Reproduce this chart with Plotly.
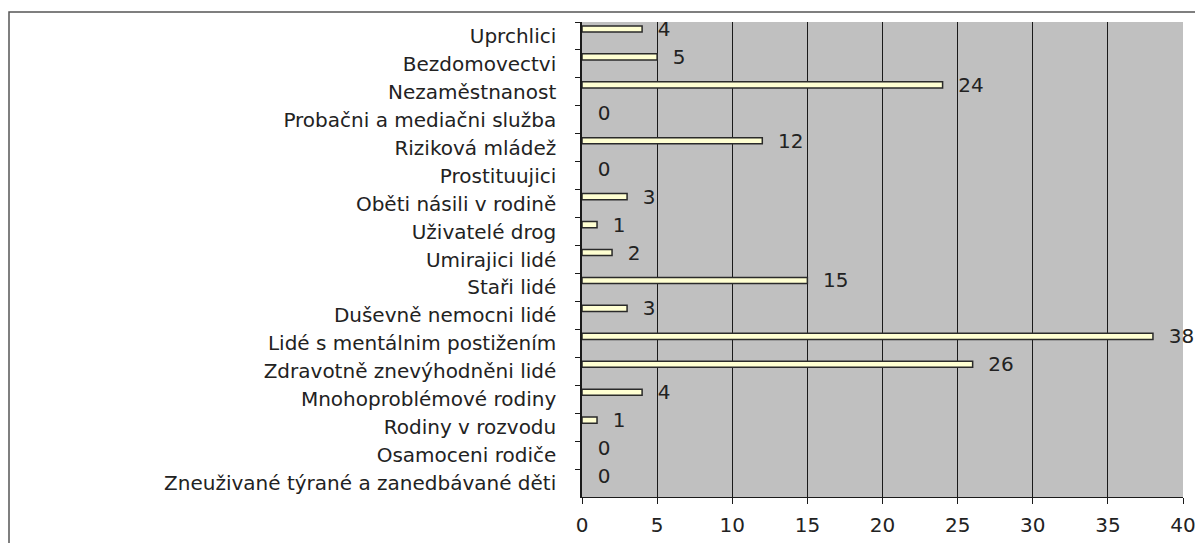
import plotly.graph_objects as go

# categories from top to bottom, as in the picture
categories = [
    "Uprchlici",
    "Bezdomovectvi",
    "Nezaměstnanost",
    "Probačni a mediačni služba",
    "Riziková mládež",
    "Prostituujici",
    "Oběti násili v rodině",
    "Uživatelé drog",
    "Umirajici lidé",
    "Staři lidé",
    "Duševně nemocni lidé",
    "Lidé s mentálnim postižením",
    "Zdravotně znevýhodněni lidé",
    "Mnohoproblémové rodiny",
    "Rodiny v rozvodu",
    "Osamoceni rodiče",
    "Zneuživané týrané a zanedbávané děti",
]
counts = [4, 5, 24, 0, 12, 0, 3, 1, 2, 15, 3, 38, 26, 4, 1, 0, 0]
x_ticks = [0, 5, 10, 15, 20, 25, 30, 35, 40]

# the page body has an 8px margin, so the figure is shifted by 8px;
# whatever runs past the window is simply cut by the viewport
SHIFT = 8
W, H = 1203, 543
PLOT_L, PLOT_R = 582 - SHIFT, 1183 - SHIFT
PLOT_T, PLOT_B = 22 - SHIFT, 497 - SHIFT

FONT = "DejaVu Sans, Arial, sans-serif"
FS = 20

fig = go.Figure(
    go.Bar(
        x=counts,
        y=categories,
        orientation="h",
        width=0.22,
        offset=-0.36,
        marker=dict(
            color="#FFFFD2",
            line=dict(color="#2a2a2a", width=[1.5 if c else 0 for c in counts]),
        ),
        texttemplate="\u00a0\u00a0%{x}",
        textposition="outside",
        constraintext="none",
        textfont=dict(family=FONT, size=FS, color="#222222"),
        cliponaxis=False,
        hoverinfo="skip",
    )
)


def px_x(px):
    return (px - SHIFT - PLOT_L) / (PLOT_R - PLOT_L)


def px_y(py):
    return (PLOT_B - (py - SHIFT)) / (PLOT_B - PLOT_T)


fig.update_layout(
    width=W,
    height=H,
    margin=dict(l=PLOT_L, r=W - PLOT_R, t=PLOT_T, b=H - PLOT_B, pad=0),
    paper_bgcolor="white",
    plot_bgcolor="#C0C0C0",
    showlegend=False,
    font=dict(family=FONT, size=FS, color="#222222"),
    # outer frame of the original chart (left and top edges visible)
    shapes=[
        dict(
            type="rect",
            xref="paper",
            yref="paper",
            x0=px_x(9),
            x1=px_x(1230),
            y0=px_y(600),
            y1=px_y(12),
            line=dict(color="#555555", width=1.5),
            layer="below",
        )
    ],
    xaxis=dict(
        range=[0, 40],
        tickvals=x_ticks,
        automargin=False,
        showgrid=True,
        gridcolor="#1a1a1a",
        gridwidth=1,
        zeroline=False,
        showline=True,
        linecolor="#1a1a1a",
        linewidth=1,
        ticks="outside",
        ticklen=6,
        tickcolor="#1a1a1a",
        ticklabelstandoff=4,
        tickfont=dict(family=FONT, size=FS, color="#222222"),
        fixedrange=True,
    ),
    yaxis=dict(
        range=[len(categories) - 0.5, -0.5],
        automargin=False,
        showgrid=False,
        showline=True,
        linecolor="#1a1a1a",
        linewidth=1.5,
        ticks="outside",
        tickson="boundaries",
        ticklen=5,
        tickcolor="#1a1a1a",
        ticklabelstandoff=20,
        tickfont=dict(family=FONT, size=FS, color="#222222"),
        fixedrange=True,
    ),
)

fig.write_html("out.html")
